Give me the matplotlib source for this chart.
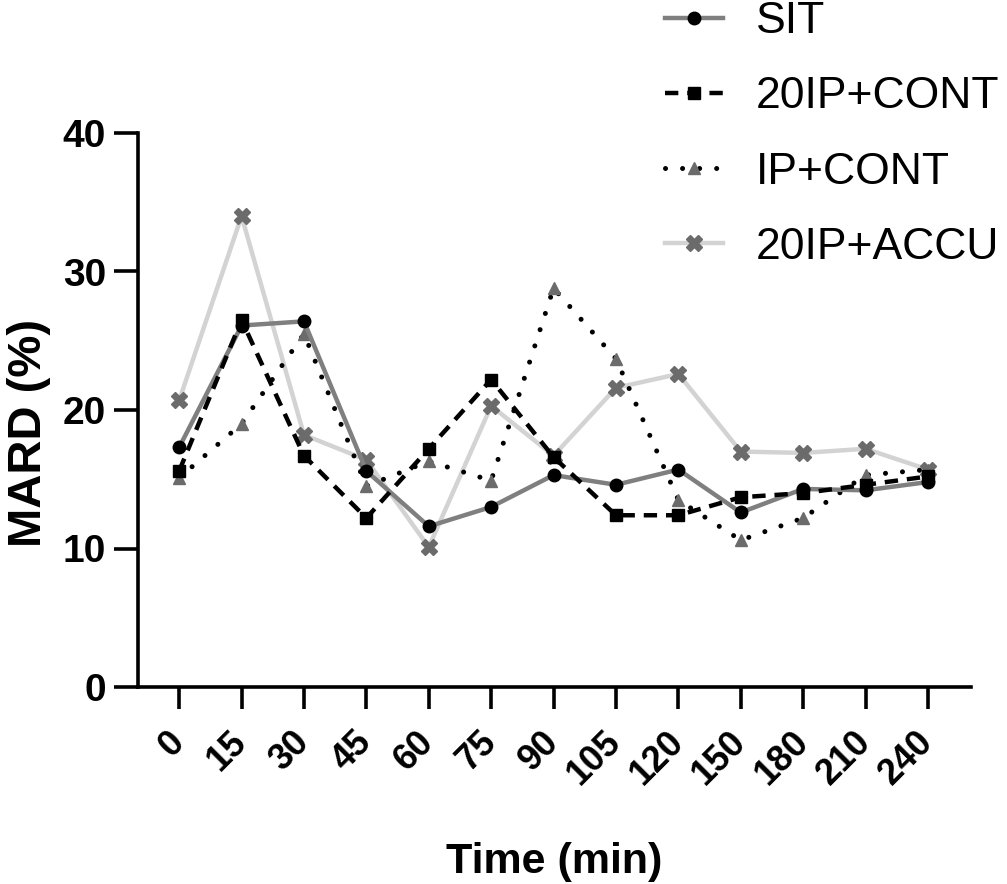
import matplotlib
matplotlib.use('Agg')
import matplotlib.pyplot as plt
import matplotlib.transforms as mtransforms

# данные
time_labels = ['0', '15', '30', '45', '60', '75', '90', '105', '120', '150', '180', '210', '240']
sit = [17.3, 26.1, 26.4, 15.6, 11.6, 13.0, 15.3, 14.6, 15.7, 12.6, 14.3, 14.2, 14.8]
ip20_cont = [15.6, 26.5, 16.7, 12.2, 17.2, 22.2, 16.6, 12.4, 12.4, 13.7, 14.0, 14.6, 15.2]
ip_cont = [15.1, 19.0, 25.5, 14.5, 16.3, 14.9, 28.8, 23.7, 13.5, 10.6, 12.2, 15.3, 15.7]
ip20_accu = [20.7, 34.0, 18.2, 16.4, 10.1, 20.3, 16.7, 21.6, 22.6, 17.0, 16.9, 17.2, 15.7]

plt.rcParams['font.family'] = ['Liberation Sans', 'DejaVu Sans']

fig = plt.figure(figsize=(10.07, 8.84), dpi=100)
ax = fig.add_axes([138 / 1007, 1 - 687 / 884, (971 - 138) / 1007, (687 - 133) / 884])

x = list(range(len(time_labels)))

l_accu, = ax.plot(x, ip20_accu, color='#d3d3d3', lw=3.2, marker='X', ms=11,
                  mfc='#6b6b6b', mec='#6b6b6b', zorder=2)
l_ip, = ax.plot(x, ip_cont, color='black', lw=3.6, linestyle=(0, (0.01, 3.4)),
                dash_capstyle='round', marker='^', ms=9,
                mfc='#6b6b6b', mec='#6b6b6b', zorder=3)
l_sit, = ax.plot(x, sit, color='#7f7f7f', lw=3.2, marker='o', ms=9,
                 mfc='black', mec='black', zorder=4)
l_cont, = ax.plot(x, ip20_cont, color='black', lw=3.2, linestyle=(0, (3, 2)),
                  marker='s', ms=8, mfc='black', mec='black', zorder=5)

ax.set_xlim(-0.66, 12.69)
ax.set_ylim(0, 40)
ax.set_yticks([0, 10, 20, 30, 40])
ax.set_xticks(x)
ax.set_xticklabels(time_labels, rotation=45, ha='right', va='center',
                   rotation_mode='anchor', fontsize=26, fontweight='bold')
# сдвиг подписей оси X немного вправо, как в оригинале
shift = mtransforms.ScaledTranslation(10 / 100, 0, fig.dpi_scale_trans)
for lab in ax.get_xticklabels():
    lab.set_transform(lab.get_transform() + shift)
for lab in ax.get_yticklabels():
    lab.set_fontsize(28)
    lab.set_fontweight('bold')

ax.spines['top'].set_visible(False)
ax.spines['right'].set_visible(False)
ax.spines['left'].set_linewidth(2.6)
ax.spines['bottom'].set_linewidth(2.6)
ax.tick_params(axis='y', length=17, width=2.6, pad=6)
ax.tick_params(axis='x', length=16, width=2.6, pad=20)

ax.set_ylabel('MARD (%)', fontsize=34, fontweight='bold')
ax.yaxis.set_label_coords(-0.105, (687 - 433) / 554)
ax.set_xlabel('Time (min)', fontsize=31, fontweight='bold', labelpad=36)

fig.legend([l_sit, l_cont, l_ip, l_accu], ['SIT', '20IP+CONT', 'IP+CONT', '20IP+ACCU'],
           loc='center left', bbox_to_anchor=(665 / 1007, 1 - 134.5 / 884),
           frameon=False, fontsize=32, handlelength=1.3, handletextpad=0.75,
           borderpad=0, borderaxespad=0, labelspacing=0.77)

fig.savefig('out.png', dpi=100)
